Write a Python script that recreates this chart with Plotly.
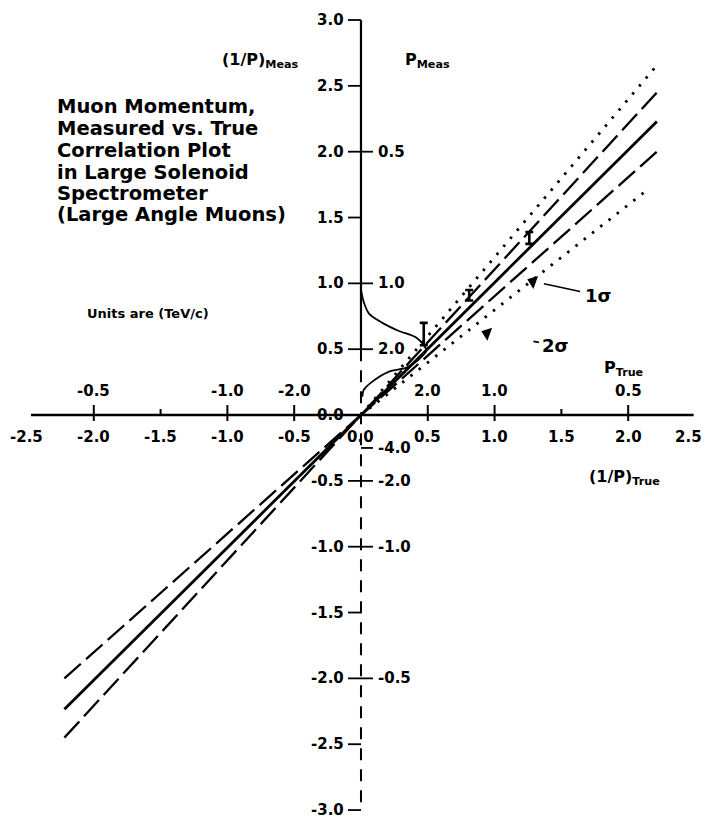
import plotly.graph_objects as go

# ---------------- data ----------------
x_ticks = [-2.5, -2.0, -1.5, -1.0, -0.5, 0.0, 0.5, 1.0, 1.5, 2.0, 2.5]
x_tick_labels = ["-2.5", "-2.0", "-1.5", "-1.0", "-0.5", "0.0", "0.5", "1.0", "1.5", "2.0", "2.5"]
y_ticks = [3.0, 2.5, 2.0, 1.5, 1.0, 0.5, 0.0, -0.5, -1.0, -1.5, -2.0, -2.5, -3.0]
y_tick_labels = ["3.0", "2.5", "2.0", "1.5", "1.0", "0.5", "0.0", "-0.5", "-1.0", "-1.5", "-2.0", "-2.5", "-3.0"]
p_true_ticks = [-2.0, -1.0, -0.5, 0.5, 1.0, 2.0]
p_true_labels = ["-0.5", "-1.0", "-2.0", "2.0", "1.0", "0.5"]
p_meas_ticks = [2.0, 1.0, 0.5, -0.25, -0.5, -1.0, -2.0]
p_meas_labels = ["0.5", "1.0", "2.0", "-4.0", "-2.0", "-1.0", "-0.5"]
minor_x_ticks = [-1.5, 1.5]

center_x = [-2.22, 0.0, 2.215]
center_y = [-2.235, 0.0, 2.23]
sig1_up_x = [-2.22, 0.0, 2.215]
sig1_up_y = [-2.00, 0.0, 2.45]
sig1_lo_x = [-2.22, 0.0, 2.215]
sig1_lo_y = [-2.45, 0.0, 2.00]
sig2_up_x = [0.0, 2.21]
sig2_up_y = [0.0, 2.65]
sig2_lo_x = [0.0, 2.155]
sig2_lo_y = [0.0, 1.72]

curve_x = [0.0, 0.02, 0.06, 0.16, 0.28, 0.41, 0.47, 0.49, 0.43, 0.34, 0.21, 0.08, 0.02, 0.01]
curve_y = [0.95, 0.86, 0.77, 0.70, 0.64, 0.59, 0.53, 0.49, 0.42, 0.36, 0.33, 0.25, 0.19, 0.14]

ibar_x = [0.47, 0.81, 1.26]
ibar_lo = [0.53, 0.87, 1.30]
ibar_hi = [0.70, 0.95, 1.39]

arrow_x = [1.287, 0.943]
arrow_y = [1.015, 0.621]

# ---------------- figure ----------------
W, H = 705, 819
XR = [-2.702, 2.575]
YR = [-3.068, 3.152]
FONT = "DejaVu Sans"

fig = go.Figure()

dash_style = "22px,7px"
dot_style = "2.5px,8px"
for xs, ys in [(sig1_up_x, sig1_up_y), (sig1_lo_x, sig1_lo_y)]:
    fig.add_trace(go.Scatter(x=xs, y=ys, mode="lines",
                             line=dict(color="black", width=2.3, dash=dash_style)))
for xs, ys in [(sig2_up_x, sig2_up_y), (sig2_lo_x, sig2_lo_y)]:
    fig.add_trace(go.Scatter(x=xs, y=ys, mode="lines",
                             line=dict(color="black", width=2.8, dash=dot_style)))
fig.add_trace(go.Scatter(x=center_x, y=center_y, mode="lines",
                         line=dict(color="black", width=2.8)))
fig.add_trace(go.Scatter(x=curve_x, y=curve_y, mode="lines",
                         line=dict(color="black", width=1.8, shape="spline", smoothing=0.8)))
fig.add_trace(go.Scatter(
    x=ibar_x, y=ibar_lo, mode="markers", marker=dict(size=1, color="black"),
    error_y=dict(type="data", symmetric=False,
                 array=[h - l for h, l in zip(ibar_hi, ibar_lo)],
                 arrayminus=[0] * len(ibar_lo), color="black", thickness=2.6, width=4)))
fig.add_trace(go.Scatter(x=arrow_x, y=arrow_y, mode="markers",
                         marker=dict(symbol="triangle-left", size=12, angle=20, color="black")))

shapes = []
# axes
shapes.append(dict(type="line", xref="x", yref="y", x0=-2.47, x1=2.49, y0=0, y1=0,
                   line=dict(color="black", width=2.5)))
shapes.append(dict(type="line", xref="x", yref="y", x0=0, x1=0, y0=3.0, y1=0.5,
                   line=dict(color="black", width=2.2)))
shapes.append(dict(type="line", xref="x", yref="y", x0=0, x1=0, y0=0.5, y1=-3.0,
                   line=dict(color="black", width=2.0, dash="12px,9px")))
# y ticks on left
for yv in y_ticks:
    if yv == 0:
        continue
    shapes.append(dict(type="line", xref="x", yref="y", xsizemode="pixel", xanchor=0,
                       x0=-13, x1=0, y0=yv, y1=yv, line=dict(color="black", width=1.8)))
# P_meas ticks on right
for yv in p_meas_ticks:
    shapes.append(dict(type="line", xref="x", yref="y", xsizemode="pixel", xanchor=0,
                       x0=0, x1=12, y0=yv, y1=yv, line=dict(color="black", width=1.8)))
# P_true ticks on x axis
for xv in p_true_ticks:
    shapes.append(dict(type="line", xref="x", yref="y", ysizemode="pixel", yanchor=0,
                       x0=xv, x1=xv, y0=-6, y1=10, line=dict(color="black", width=2)))
for xv in minor_x_ticks:
    shapes.append(dict(type="line", xref="x", yref="y", ysizemode="pixel", yanchor=0,
                       x0=xv, x1=xv, y0=0, y1=6, line=dict(color="black", width=2)))

ann = []
tick_font = dict(family=FONT, size=15, color="black", weight="bold")
for xv, t in zip(x_ticks, x_tick_labels):
    shift = -6 if xv == x_ticks[-1] else 0
    ann.append(dict(x=xv, y=0, xref="x", yref="y", text=t, showarrow=False,
                    yshift=-22, xshift=shift, font=tick_font, xanchor="center", yanchor="middle"))
for xv, t in zip(p_true_ticks, p_true_labels):
    ann.append(dict(x=xv, y=0, xref="x", yref="y", text=t, showarrow=False,
                    yshift=24, font=tick_font, xanchor="center", yanchor="middle"))
for yv, t in zip(y_ticks, y_tick_labels):
    ann.append(dict(x=0, y=yv, xref="x", yref="y", text=t, showarrow=False,
                    xshift=-15, font=tick_font, xanchor="right", yanchor="middle"))
for yv, t in zip(p_meas_ticks, p_meas_labels):
    ann.append(dict(x=0, y=yv, xref="x", yref="y", text=t, showarrow=False,
                    xshift=15, font=tick_font, xanchor="left", yanchor="middle"))


def paper(px, py):
    return px / W, 1 - py / H


title_lines = ["Muon Momentum,", "Measured vs. True", "Correlation Plot",
               "in Large Solenoid", "Spectrometer", "(Large Angle Muons)"]
title_y = [107, 128, 150, 172, 193, 215]
for t, py in zip(title_lines, title_y):
    xp, yp = paper(55, py)
    ann.append(dict(x=xp, y=yp, xref="paper", yref="paper", text=t, showarrow=False,
                    xanchor="left", yanchor="middle",
                    font=dict(family=FONT, size=19.5, color="black", weight="bold")))

lab_font = dict(family=FONT, size=16, color="black", weight="bold")
for t, px, py in [("(1/P)<sub>Meas</sub>", 220, 61), ("P<sub>Meas</sub>", 403, 61),
                  ("P<sub>True</sub>", 602, 369), ("(1/P)<sub>True</sub>", 587, 477)]:
    xp, yp = paper(px, py)
    ann.append(dict(x=xp, y=yp, xref="paper", yref="paper", text=t, showarrow=False,
                    xanchor="left", yanchor="middle", font=lab_font))
xp, yp = paper(85, 313)
ann.append(dict(x=xp, y=yp, xref="paper", yref="paper", text="Units are (TeV/c)",
                showarrow=False, xanchor="left", yanchor="middle",
                font=dict(family=FONT, size=13, color="black", weight="bold")))

sig_font = dict(family=FONT, size=18, color="black", weight="bold")
ann.append(dict(x=1.355, y=1.0, xref="x", yref="y", text="1σ", showarrow=True,
                arrowhead=0, arrowwidth=1.6, arrowcolor="black", ax=56, ay=12,
                standoff=2, startstandoff=3, font=sig_font))
ann.append(dict(x=1.025, y=0.606, xref="x", yref="y", text="2σ", showarrow=True,
                arrowhead=0, arrowwidth=1.8, arrowcolor="black", ax=58, ay=10,
                standoff=36, startstandoff=2, font=sig_font))

fig.update_layout(
    width=W, height=H, margin=dict(l=0, r=0, t=0, b=0),
    paper_bgcolor="white", plot_bgcolor="white", showlegend=False,
    hovermode=False,
    xaxis=dict(range=XR, visible=False, fixedrange=True),
    yaxis=dict(range=YR, visible=False, fixedrange=True),
    shapes=shapes, annotations=ann,
)

fig.write_html("out.html")
